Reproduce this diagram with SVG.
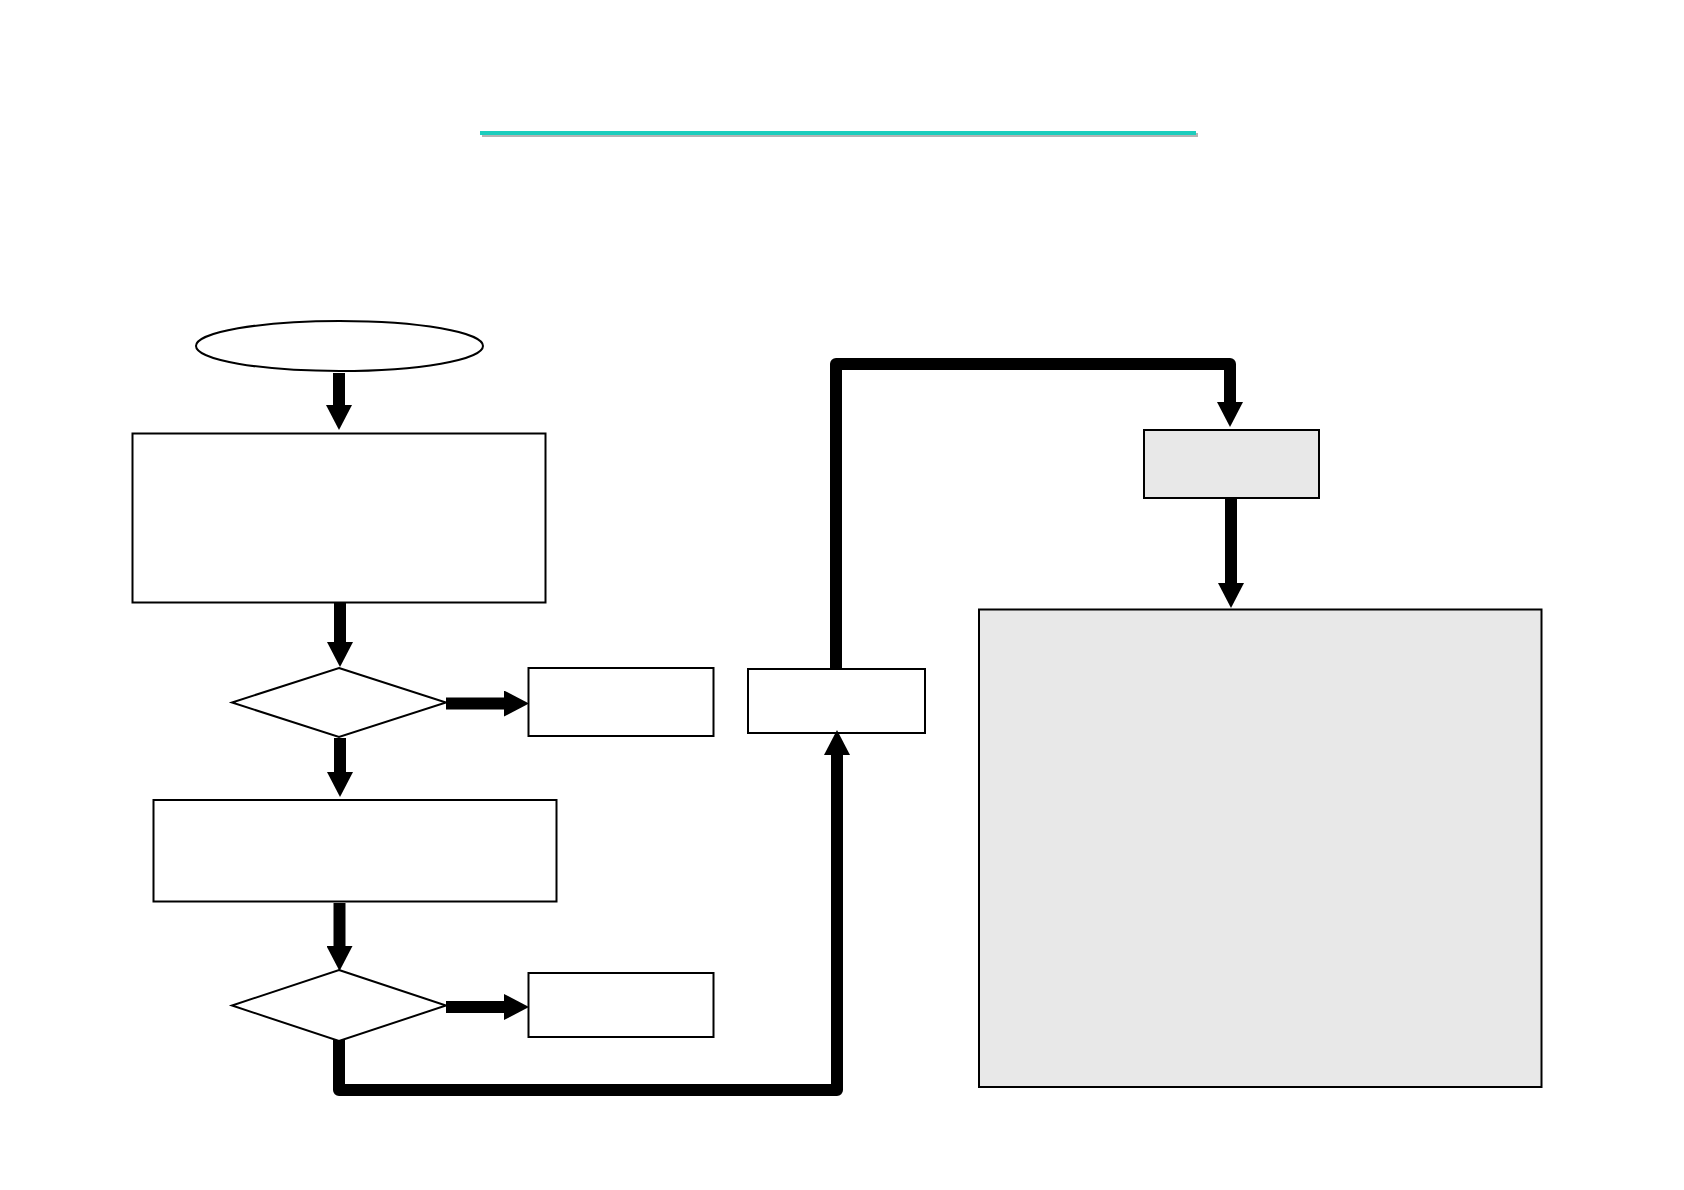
<svg xmlns="http://www.w3.org/2000/svg" width="1684" height="1190" viewBox="0 0 1684 1190">
  <style>
    .shape { fill: #ffffff; stroke: #000000; stroke-width: 2; }
    .grey { fill: #e8e8e8; stroke: #000000; stroke-width: 2; }
    .conn { fill: none; stroke: #000000; stroke-width: 12; stroke-linejoin: round; marker-end: url(#head); }
  </style>
  <defs>
    <marker id="head" markerUnits="userSpaceOnUse" viewBox="0 0 25 26" markerWidth="25" markerHeight="26" refX="0" refY="13" orient="auto">
      <path d="M0,0 L25,13 L0,26 Z" fill="#000000"/>
    </marker>
  </defs>
  <rect width="1684" height="1190" fill="#ffffff"/>

  <g id="title-rule">
    <rect x="482" y="133" width="716" height="4" fill="#b4b4b4"/>
    <rect x="480" y="131" width="716" height="4" fill="#1ccdbd"/>
  </g>

  <g id="start"><ellipse class="shape" cx="339.5" cy="346" rx="143.5" ry="25"/></g>
  <g id="step1"><rect class="shape" x="132.5" y="433.5" width="413" height="169"/></g>
  <g id="decision1"><polygon class="shape" points="339,668 446,702.5 339,737 232,702.5"/></g>
  <g id="boxA"><rect class="shape" x="528.5" y="668" width="185" height="68"/></g>
  <g id="step2"><rect class="shape" x="153.5" y="800" width="403" height="101.5"/></g>
  <g id="decision2"><polygon class="shape" points="339,970 446,1005.5 339,1041 232,1005.5"/></g>
  <g id="boxB"><rect class="shape" x="528.5" y="973" width="185" height="64"/></g>
  <g id="boxC"><rect class="shape" x="748" y="669" width="177" height="64"/></g>
  <g id="boxD"><rect class="grey" x="1144" y="430" width="175" height="68" stroke-width="1"/></g>
  <g id="bigBox"><rect class="grey" x="979" y="609.5" width="562.5" height="477.5"/></g>

  <g id="connectors">
    <path class="conn" d="M339,373 V405"/>
    <path class="conn" d="M340,603 V642"/>
    <path class="conn" d="M446,703.5 H504"/>
    <path class="conn" d="M340,738 V772"/>
    <path class="conn" d="M339.5,903 V946"/>
    <path class="conn" d="M446,1007 H504"/>
    <path class="conn" d="M339,1040 V1090 H837 V755"/>
    <path class="conn" d="M836,668 V364 H1230 V402"/>
    <path class="conn" d="M1231,499 V583"/>
  </g>
</svg>
